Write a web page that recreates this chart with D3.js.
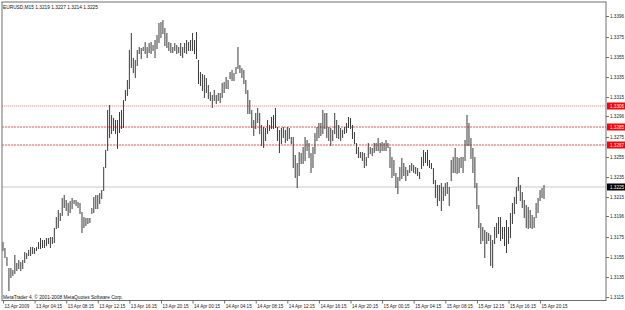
<!DOCTYPE html>
<html>
<head>
<meta charset="utf-8">
<script src="https://cdn.jsdelivr.net/npm/d3@7"></script>
<style>
  html, body { margin: 0; padding: 0; background: #fff; }
  svg { display: block; font-family: "Liberation Sans", Arial, sans-serif; }
</style>
</head>
<body>
<div id="chart"></div>
<script>
// EURUSD M15 bars, 13 Apr 2009 00:15 -> 15 Apr 2009 20:45
const symbol = "EURUSD,M15";
const lastBar = ["1.3219", "1.3227", "1.3214", "1.3225"]; // O H L C
const footer = "MetaTrader 4, \u00a9 2001-2008 MetaQuotes Software Corp.";
const firstBar = new Date(2009, 3, 13, 0, 15);

const highs = [
  1.3170,1.3164,1.3155,1.3144,1.3144,1.3142,1.3157,1.3149,1.3152,1.3150,
  1.3152,1.3160,1.3159,1.3162,1.3165,1.3165,1.3164,1.3165,1.3170,1.3174,
  1.3172,1.3172,1.3174,1.3174,1.3175,1.3175,1.3184,1.3195,1.3202,1.3199,
  1.3214,1.3217,1.3212,1.3209,1.3211,1.3214,1.3212,1.3212,1.3210,1.3209,
  1.3200,1.3195,1.3194,1.3194,1.3194,1.3204,1.3215,1.3217,1.3217,1.3219,
  1.3222,1.3245,1.3262,1.3302,1.3307,1.3297,1.3294,1.3292,1.3292,1.3300,
  1.3302,1.3312,1.3322,1.3332,1.3362,1.3379,1.3354,1.3352,1.3362,1.3365,
  1.3364,1.3365,1.3370,1.3365,1.3369,1.3370,1.3367,1.3372,1.3377,1.3389,
  1.3390,1.3392,1.3384,1.3379,1.3370,1.3369,1.3365,1.3369,1.3367,1.3365,
  1.3369,1.3365,1.3369,1.3372,1.3370,1.3372,1.3379,1.3372,1.3380,1.3352,
  1.3340,1.3338,1.3337,1.3334,1.3327,1.3320,1.3317,1.3322,1.3317,1.3319,
  1.3319,1.3329,1.3330,1.3335,1.3332,1.3340,1.3342,1.3339,1.3345,1.3365,
  1.3347,1.3344,1.3342,1.3332,1.3322,1.3312,1.3302,1.3292,1.3299,1.3304,
  1.3299,1.3287,1.3285,1.3284,1.3292,1.3287,1.3295,1.3297,1.3304,1.3285,
  1.3282,1.3284,1.3285,1.3282,1.3285,1.3284,1.3275,1.3275,1.3257,1.3249,
  1.3260,1.3259,1.3265,1.3275,1.3272,1.3269,1.3259,1.3265,1.3279,1.3285,
  1.3289,1.3289,1.3302,1.3299,1.3299,1.3285,1.3284,1.3282,1.3299,1.3292,
  1.3287,1.3284,1.3282,1.3285,1.3289,1.3295,1.3294,1.3287,1.3280,1.3269,
  1.3265,1.3260,1.3260,1.3259,1.3255,1.3269,1.3265,1.3264,1.3269,1.3269,
  1.3274,1.3269,1.3270,1.3269,1.3272,1.3269,1.3265,1.3255,1.3252,1.3239,
  1.3235,1.3245,1.3254,1.3249,1.3245,1.3242,1.3247,1.3249,1.3247,1.3245,
  1.3244,1.3240,1.3255,1.3262,1.3260,1.3262,1.3252,1.3249,1.3244,1.3232,
  1.3227,1.3227,1.3229,1.3225,1.3229,1.3230,1.3225,1.3252,1.3255,1.3264,
  1.3255,1.3254,1.3255,1.3255,1.3272,1.3297,1.3289,1.3274,1.3264,1.3255,
  1.3229,1.3207,1.3189,1.3185,1.3182,1.3180,1.3179,1.3177,1.3172,1.3185,
  1.3189,1.3195,1.3195,1.3185,1.3185,1.3192,1.3185,1.3199,1.3209,1.3215,
  1.3225,1.3235,1.3227,1.3220,1.3212,1.3207,1.3205,1.3202,1.3197,1.3195,
  1.3209,1.3214,1.3222,1.3224,1.3227
];
const lows = [
  1.3162,1.3155,1.3147,1.3122,1.3135,1.3137,1.3139,1.3142,1.3144,1.3142,
  1.3144,1.3150,1.3154,1.3157,1.3157,1.3159,1.3159,1.3162,1.3164,1.3164,
  1.3165,1.3165,1.3167,1.3169,1.3165,1.3169,1.3170,1.3184,1.3185,1.3192,
  1.3197,1.3205,1.3202,1.3197,1.3200,1.3204,1.3209,1.3207,1.3205,1.3199,
  1.3180,1.3185,1.3187,1.3189,1.3190,1.3199,1.3200,1.3204,1.3204,1.3209,
  1.3214,1.3222,1.3245,1.3262,1.3275,1.3279,1.3282,1.3279,1.3264,1.3280,
  1.3284,1.3285,1.3312,1.3317,1.3324,1.3345,1.3340,1.3335,1.3347,1.3359,
  1.3354,1.3362,1.3359,1.3355,1.3360,1.3359,1.3362,1.3355,1.3364,1.3370,
  1.3375,1.3379,1.3367,1.3365,1.3362,1.3360,1.3360,1.3362,1.3359,1.3360,
  1.3357,1.3355,1.3360,1.3359,1.3362,1.3362,1.3362,1.3359,1.3354,1.3329,
  1.3327,1.3322,1.3315,1.3320,1.3314,1.3312,1.3305,1.3312,1.3309,1.3312,
  1.3310,1.3315,1.3320,1.3324,1.3324,1.3334,1.3332,1.3332,1.3339,1.3344,
  1.3340,1.3335,1.3329,1.3319,1.3299,1.3299,1.3285,1.3277,1.3284,1.3290,
  1.3279,1.3267,1.3265,1.3272,1.3279,1.3282,1.3284,1.3284,1.3285,1.3272,
  1.3260,1.3269,1.3275,1.3270,1.3272,1.3274,1.3269,1.3245,1.3235,1.3225,
  1.3237,1.3249,1.3249,1.3252,1.3262,1.3255,1.3240,1.3245,1.3259,1.3272,
  1.3275,1.3277,1.3279,1.3284,1.3275,1.3272,1.3267,1.3272,1.3279,1.3275,
  1.3274,1.3272,1.3275,1.3279,1.3280,1.3285,1.3284,1.3274,1.3269,1.3259,
  1.3255,1.3255,1.3252,1.3245,1.3247,1.3255,1.3259,1.3257,1.3260,1.3262,
  1.3262,1.3260,1.3262,1.3262,1.3262,1.3265,1.3245,1.3235,1.3237,1.3225,
  1.3219,1.3232,1.3234,1.3237,1.3232,1.3237,1.3240,1.3242,1.3240,1.3239,
  1.3237,1.3234,1.3244,1.3247,1.3250,1.3247,1.3245,1.3244,1.3229,1.3215,
  1.3207,1.3212,1.3202,1.3212,1.3217,1.3219,1.3207,1.3232,1.3240,1.3240,
  1.3239,1.3240,1.3245,1.3240,1.3252,1.3267,1.3267,1.3254,1.3240,1.3225,
  1.3204,1.3185,1.3169,1.3172,1.3155,1.3169,1.3172,1.3147,1.3145,1.3169,
  1.3175,1.3179,1.3172,1.3174,1.3167,1.3160,1.3169,1.3175,1.3189,1.3199,
  1.3209,1.3222,1.3212,1.3205,1.3195,1.3185,1.3184,1.3185,1.3184,1.3185,
  1.3195,1.3200,1.3212,1.3215,1.3214
];

const yTicks = [1.3396,1.3375,1.3355,1.3335,1.3315,1.3296,1.3275,1.3255,
                1.3235,1.3215,1.3196,1.3175,1.3155,1.3135,1.3115];
const xTickLabels = ["13 Apr 2009","13 Apr 04:15","13 Apr 08:15","13 Apr 12:15",
  "13 Apr 16:15","13 Apr 20:15","14 Apr 00:15","14 Apr 04:15","14 Apr 08:15",
  "14 Apr 12:15","14 Apr 16:15","14 Apr 20:15","15 Apr 00:15","15 Apr 04:15",
  "15 Apr 08:15","15 Apr 12:15","15 Apr 16:15","15 Apr 20:15"];
const levels = [1.3306, 1.3285, 1.3267];   // red horizontal lines
const bid = 1.3225;

// SIZES
const width = 625, height = 310;
const frame = {left: 2, top: 2, right: 606, bottom: 300.5};

const barMs = 15 * 60 * 1000;
const bars = highs.map((h, i) => ({
  time: new Date(firstBar.getTime() + i * barMs),
  high: h,
  low: lows[i]
}));
const tickTimes = xTickLabels.map((_, k) => new Date(firstBar.getTime() + k * 16 * barMs));

// SCALES
const xScale = d3.scaleTime()
  .domain(d3.extent(bars, d => d.time))
  .range([3, 544]);

const yScale = d3.scaleLinear()
  .domain([1.3115, 1.3396])
  .range([297, 16]);

const svg = d3.select("#chart").append("svg")
  .attr("width", width)
  .attr("height", height);

svg.append("rect")
  .attr("width", width).attr("height", height)
  .attr("fill", "#fff");

svg.append("clipPath").attr("id", "plot")
  .append("rect")
  .attr("x", frame.left).attr("y", frame.top)
  .attr("width", frame.right - frame.left)
  .attr("height", frame.bottom - frame.top);

const plot = svg.append("g").attr("clip-path", "url(#plot)");

// bid line
plot.append("line")
  .attr("x1", frame.left).attr("x2", frame.right)
  .attr("y1", yScale(bid)).attr("y2", yScale(bid))
  .attr("stroke", "#c9c9c9");

// red levels
plot.selectAll("line.level")
  .data(levels)
  .join("line")
  .attr("class", "level")
  .attr("x1", frame.left).attr("x2", frame.right)
  .attr("y1", d => yScale(d)).attr("y2", d => yScale(d))
  .attr("stroke", (d, i) => i === 0 ? "#ff8c8c" : "#ff5050")
  .attr("stroke-dasharray", (d, i) => i === 0 ? "1,1" : "2,1");

// bars
plot.selectAll("line.bar")
  .data(bars)
  .join("line")
  .attr("class", "bar")
  .attr("x1", d => xScale(d.time)).attr("x2", d => xScale(d.time))
  .attr("y1", d => yScale(d.high)).attr("y2", d => yScale(d.low) + 1)
  .attr("stroke", "#3a3a3a")
  .attr("stroke-width", 1);

// frame
svg.append("rect")
  .attr("x", frame.left).attr("y", frame.top)
  .attr("width", frame.right - frame.left)
  .attr("height", frame.bottom - frame.top)
  .attr("fill", "none")
  .attr("stroke", "#6e6e6e");

// AXES
const yAxis = d3.axisRight(yScale)
  .tickValues(yTicks)
  .tickFormat(d3.format(".4f"))
  .tickSize(3)
  .tickPadding(1);

const yAxisGroup = svg.append("g")
  .attr("transform", `translate(${frame.right}, 0)`)
  .call(yAxis);
yAxisGroup.select(".domain").remove();
yAxisGroup.selectAll("line").attr("stroke", "#6e6e6e");
yAxisGroup.selectAll("text")
  .attr("font-size", "4.6px")
  .attr("font-family", "Liberation Sans, Arial, sans-serif")
  .attr("fill", "#222");

const xAxis = d3.axisBottom(xScale)
  .tickValues(tickTimes)
  .tickFormat((d, i) => xTickLabels[i])
  .tickSize(3)
  .tickPadding(1);

const xAxisGroup = svg.append("g")
  .attr("transform", `translate(0, ${frame.bottom})`)
  .call(xAxis);
xAxisGroup.select(".domain").remove();
xAxisGroup.selectAll("line").attr("stroke", "#6e6e6e");
xAxisGroup.selectAll("text")
  .attr("text-anchor", "start")
  .attr("dx", "1")
  .attr("font-size", "4.6px")
  .attr("font-family", "Liberation Sans, Arial, sans-serif")
  .attr("fill", "#222");

// price labels on the right
const tags = levels.map(v => ({v: v, fill: "#ff0000"})).concat([{v: bid, fill: "#000"}]);
const tagG = svg.selectAll("g.tag")
  .data(tags)
  .join("g")
  .attr("class", "tag")
  .attr("transform", d => `translate(${frame.right + 1}, ${yScale(d.v)})`);
tagG.append("rect")
  .attr("x", 0).attr("y", -3.5)
  .attr("width", 18).attr("height", 7)
  .attr("fill", d => d.fill);
tagG.append("text")
  .attr("x", 3).attr("y", 0)
  .attr("dy", "0.35em")
  .attr("font-size", "4.6px")
  .attr("fill", "#fff")
  .text(d => d3.format(".4f")(d.v));

// header + copyright
svg.append("text")
  .attr("x", 3).attr("y", 8.5)
  .attr("font-size", "4.8px")
  .attr("fill", "#111")
  .text(symbol + " " + lastBar.join(" "));

svg.append("text")
  .attr("x", 3).attr("y", 298.5)
  .attr("font-size", "4.8px")
  .attr("fill", "#111")
  .text(footer);
</script>
</body>
</html>
